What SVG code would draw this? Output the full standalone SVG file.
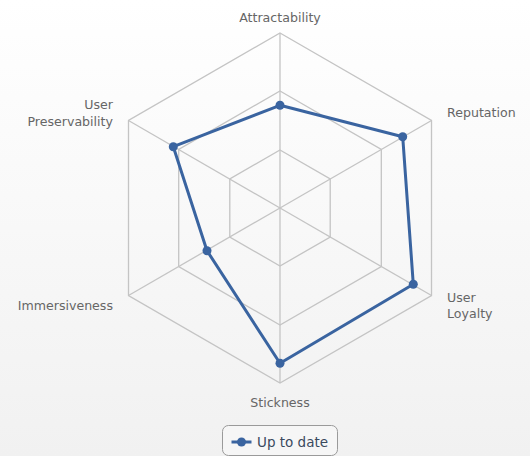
<svg xmlns="http://www.w3.org/2000/svg" width="530" height="456" viewBox="0 0 530 456">
<defs>
<linearGradient id="bg" x1="0" y1="0" x2="0" y2="1">
<stop offset="0" stop-color="#ffffff"/>
<stop offset="1" stop-color="#f1f1f1"/>
</linearGradient>
<style>
.grid{fill:none;stroke:#c4c4c4;stroke-width:1.3}
.lbl{font-family:"DejaVu Sans",sans-serif;font-size:12.6px;fill:#666}
.series{fill:none;stroke:#3a64a0;stroke-width:3;stroke-linejoin:round}
.dot{fill:#3a64a0}
.leg{font-family:"DejaVu Sans",sans-serif;font-size:13.5px;fill:#3a4a5e}
</style>
</defs>
<rect width="530" height="456" fill="url(#bg)"/>
<g id="grid">
<polygon class="grid" points="280,33 431.5,120.5 431.5,295.5 280,383 128.5,295.5 128.5,120.5"/>
<polygon class="grid" points="280,91 381.3,149.5 381.3,266.5 280,325 178.7,266.5 178.7,149.5"/>
<polygon class="grid" points="280,150 330.2,179 330.2,237 280,266 229.8,237 229.8,179"/>
<line class="grid" x1="280" y1="208" x2="280" y2="33"/>
<line class="grid" x1="280" y1="208" x2="431.5" y2="120.5"/>
<line class="grid" x1="280" y1="208" x2="431.5" y2="295.5"/>
<line class="grid" x1="280" y1="208" x2="280" y2="383"/>
<line class="grid" x1="280" y1="208" x2="128.5" y2="295.5"/>
<line class="grid" x1="280" y1="208" x2="128.5" y2="120.5"/>
</g>
<g id="labels">
<text class="lbl" x="280" y="22" text-anchor="middle">Attractability</text>
<text class="lbl" x="447" y="117">Reputation</text>
<text class="lbl" x="447" y="302">User</text>
<text class="lbl" x="447" y="318">Loyalty</text>
<text class="lbl" x="280" y="407" text-anchor="middle">Stickness</text>
<text class="lbl" x="113" y="310" text-anchor="end">Immersiveness</text>
<text class="lbl" x="113" y="109" text-anchor="end">User</text>
<text class="lbl" x="113" y="126" text-anchor="end">Preservability</text>
</g>
<g id="series-up-to-date">
<polygon class="series" points="280,105.3 402.7,136.7 413.3,284.3 280,363.3 207,250.7 173.3,146.7"/>
<circle class="dot" cx="280" cy="105.3" r="4.5"/>
<circle class="dot" cx="402.7" cy="136.7" r="4.5"/>
<circle class="dot" cx="413.3" cy="284.3" r="4.5"/>
<circle class="dot" cx="280" cy="363.3" r="4.5"/>
<circle class="dot" cx="207" cy="250.7" r="4.5"/>
<circle class="dot" cx="173.3" cy="146.7" r="4.5"/>
</g>
<g id="legend">
<rect x="222.5" y="425.5" width="115" height="30" rx="6" fill="#f6f6f6" stroke="#9a9a9a" stroke-width="1"/>
<line x1="231.5" y1="442" x2="251.5" y2="442" stroke="#3a64a0" stroke-width="3"/>
<circle class="dot" cx="241.5" cy="442" r="4.5"/>
<text class="leg" x="257" y="447">Up to date</text>
</g>
</svg>
